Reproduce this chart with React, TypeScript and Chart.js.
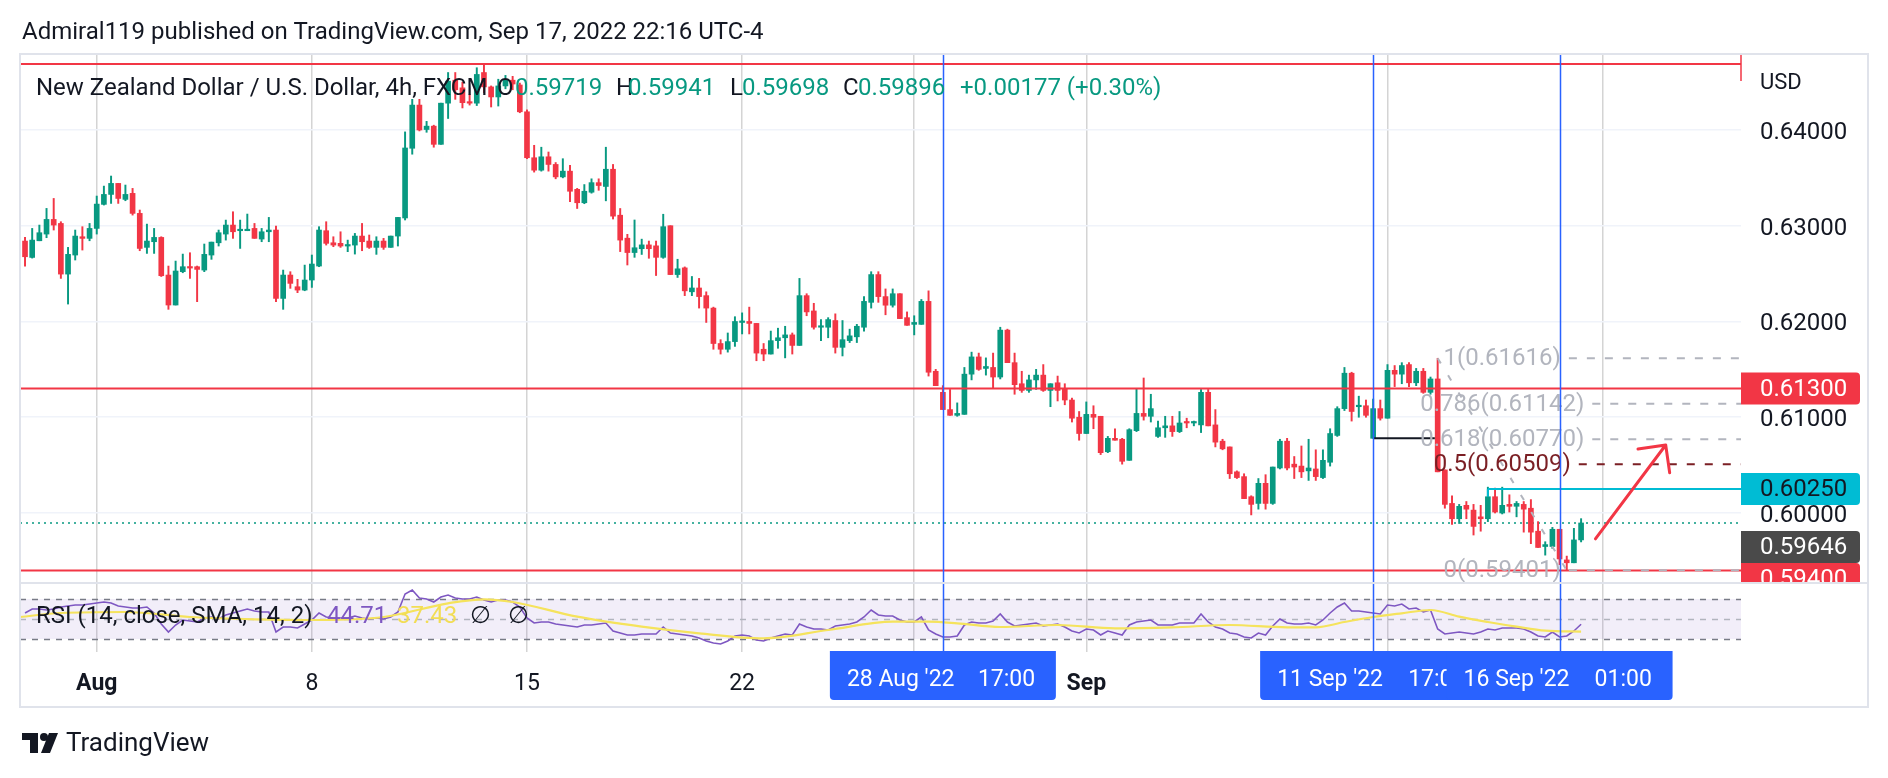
import React, { useEffect, useRef } from 'react';
import { Chart, registerables } from 'chart.js';

Chart.register(...registerables);

const FONT = 'Roboto, "Noto Sans", "DejaVu Sans", sans-serif';
const UP = '#089981';
const DOWN = '#f23645';
const TEXT = '#131722';

// ---- 4h candles, NZD/USD (bar index 0 = first visible bar) ----
const opens = [
  0.62840, 0.62669, 0.62843, 0.62913, 0.63066, 0.63024, 0.62495, 0.62694, 0.62885, 0.62868,
  0.62972, 0.63223, 0.63327, 0.63442, 0.63275, 0.63338, 0.63129, 0.62774, 0.62833, 0.62878,
  0.62485, 0.62172, 0.62520, 0.62572, 0.62572, 0.62537, 0.62694, 0.62822, 0.62913, 0.63007,
  0.62948, 0.62948, 0.62972, 0.62861, 0.62937, 0.62955, 0.62241, 0.62485, 0.62363, 0.62328,
  0.62433, 0.62579, 0.62948, 0.62822, 0.62816, 0.62788, 0.62798, 0.62892, 0.62840, 0.62774,
  0.62840, 0.62774, 0.62892, 0.63081, 0.63809, 0.64260, 0.64005, 0.64040, 0.63850, 0.64280,
  0.64520, 0.64440, 0.64290, 0.64280, 0.64600, 0.64450, 0.64345, 0.64460, 0.64520, 0.64470,
  0.64190, 0.63710, 0.63580, 0.63720, 0.63640, 0.63510, 0.63570, 0.63380, 0.63240, 0.63350,
  0.63450, 0.63410, 0.63590, 0.63110, 0.62870, 0.62720, 0.62760, 0.62800, 0.62790, 0.62670,
  0.63000, 0.62490, 0.62560, 0.62310, 0.62350, 0.62270, 0.62140, 0.61770, 0.61710, 0.61790,
  0.61990, 0.62000, 0.61980, 0.61710, 0.61660, 0.61800, 0.61830, 0.61860, 0.61750, 0.62270,
  0.62110, 0.61940, 0.61940, 0.62010, 0.61730, 0.61800, 0.61840, 0.61940, 0.62200, 0.62490,
  0.62260, 0.62170, 0.62290, 0.62040, 0.61970, 0.61970, 0.62210, 0.61480, 0.61260, 0.61080,
  0.61020, 0.61030, 0.61450, 0.61630, 0.61510, 0.61520, 0.61420, 0.61910, 0.61570, 0.61350,
  0.61280, 0.61390, 0.61440, 0.61280, 0.61360, 0.61300, 0.61180, 0.61000, 0.60830, 0.61030,
  0.61010, 0.60640, 0.60780, 0.60770, 0.60550, 0.60860, 0.61040, 0.61010, 0.60800, 0.60890,
  0.60910, 0.60850, 0.60950, 0.60940, 0.60920, 0.61260, 0.60920, 0.60750, 0.60690, 0.60430,
  0.60380, 0.60170, 0.60100, 0.60310, 0.60100, 0.60470, 0.60750, 0.60510, 0.60490, 0.60440,
  0.60460, 0.60370, 0.60530, 0.60810, 0.61090, 0.61460, 0.61110, 0.61120, 0.60780, 0.61090,
  0.60990, 0.61490, 0.61450, 0.61550, 0.61360, 0.61480, 0.61260, 0.61400, 0.60450, 0.60100,
  0.59940, 0.60080, 0.60030, 0.59960, 0.59940, 0.60170, 0.60000, 0.60090, 0.60070, 0.60090,
  0.60050, 0.59810, 0.59650, 0.59650, 0.59830, 0.59510, 0.59480, 0.59719,
];
const highs = [
  0.62878, 0.62972, 0.63007, 0.63181, 0.63285, 0.63042, 0.62774, 0.62955, 0.62990, 0.63024,
  0.63310, 0.63414, 0.63519, 0.63442, 0.63425, 0.63390, 0.63164, 0.63017, 0.62972, 0.62885,
  0.62579, 0.62631, 0.62704, 0.62718, 0.62579, 0.62809, 0.62829, 0.62955, 0.63059, 0.63146,
  0.63059, 0.63122, 0.63024, 0.62972, 0.63087, 0.62997, 0.62537, 0.62520, 0.62440, 0.62589,
  0.62694, 0.62990, 0.63042, 0.62885, 0.62937, 0.62850, 0.62920, 0.63024, 0.62903, 0.62885,
  0.62868, 0.62892, 0.63087, 0.63980, 0.64320, 0.64320, 0.64090, 0.64050, 0.64280, 0.64600,
  0.64600, 0.64500, 0.64370, 0.64650, 0.64680, 0.64460, 0.64530, 0.64570, 0.64560, 0.64490,
  0.64210, 0.63840, 0.63820, 0.63770, 0.63660, 0.63700, 0.63630, 0.63390, 0.63430, 0.63490,
  0.63490, 0.63820, 0.63640, 0.63180, 0.62910, 0.63060, 0.62860, 0.62840, 0.62840, 0.63120,
  0.63000, 0.62650, 0.62570, 0.62470, 0.62450, 0.62310, 0.62150, 0.61810, 0.61880, 0.62050,
  0.62090, 0.62150, 0.61980, 0.61770, 0.61900, 0.61930, 0.61950, 0.61880, 0.62450, 0.62290,
  0.62190, 0.62020, 0.62040, 0.62080, 0.62010, 0.61920, 0.61970, 0.62260, 0.62520, 0.62520,
  0.62340, 0.62340, 0.62290, 0.62100, 0.62060, 0.62230, 0.62320, 0.61500, 0.61330, 0.61290,
  0.61150, 0.61520, 0.61680, 0.61670, 0.61620, 0.61670, 0.61940, 0.61920, 0.61670, 0.61480,
  0.61440, 0.61500, 0.61550, 0.61350, 0.61430, 0.61350, 0.61200, 0.61060, 0.61160, 0.61120,
  0.61010, 0.60800, 0.60880, 0.60780, 0.60880, 0.61300, 0.61410, 0.61240, 0.60960, 0.61010,
  0.61010, 0.61060, 0.60990, 0.60960, 0.61290, 0.61290, 0.61080, 0.60770, 0.60690, 0.60440,
  0.60410, 0.60180, 0.60360, 0.60400, 0.60480, 0.60770, 0.60780, 0.60590, 0.60700, 0.60770,
  0.60660, 0.60660, 0.60880, 0.61110, 0.61520, 0.61470, 0.61220, 0.61180, 0.61190, 0.61180,
  0.61550, 0.61540, 0.61570, 0.61570, 0.61510, 0.61510, 0.61420, 0.61616, 0.60450, 0.60180,
  0.60090, 0.60120, 0.60090, 0.60080, 0.60270, 0.60260, 0.60270, 0.60190, 0.60120, 0.60120,
  0.60140, 0.59910, 0.59700, 0.59850, 0.59830, 0.59550, 0.59840, 0.59941,
];
const lows = [
  0.62579, 0.62662, 0.62843, 0.62875, 0.62955, 0.62450, 0.62182, 0.62642, 0.62746, 0.62843,
  0.62913, 0.63216, 0.63233, 0.63233, 0.63261, 0.63111, 0.62739, 0.62711, 0.62711, 0.62470,
  0.62127, 0.62172, 0.62509, 0.62450, 0.62207, 0.62520, 0.62649, 0.62788, 0.62850, 0.62868,
  0.62763, 0.62948, 0.62868, 0.62833, 0.62833, 0.62207, 0.62127, 0.62346, 0.62301, 0.62321,
  0.62356, 0.62572, 0.62798, 0.62781, 0.62774, 0.62729, 0.62704, 0.62739, 0.62763, 0.62701,
  0.62753, 0.62774, 0.62788, 0.63060, 0.63747, 0.63990, 0.63976, 0.63820, 0.63850, 0.64120,
  0.64320, 0.64230, 0.64260, 0.64255, 0.64390, 0.64240, 0.64250, 0.64430, 0.64420, 0.64180,
  0.63700, 0.63560, 0.63570, 0.63570, 0.63490, 0.63500, 0.63250, 0.63180, 0.63230, 0.63340,
  0.63370, 0.63260, 0.63070, 0.62730, 0.62590, 0.62670, 0.62700, 0.62660, 0.62480, 0.62660,
  0.62490, 0.62460, 0.62270, 0.62270, 0.62140, 0.61990, 0.61710, 0.61660, 0.61680, 0.61740,
  0.61870, 0.61870, 0.61590, 0.61590, 0.61660, 0.61720, 0.61620, 0.61660, 0.61750, 0.62060,
  0.61920, 0.61800, 0.61830, 0.61670, 0.61640, 0.61780, 0.61780, 0.61900, 0.62140, 0.62200,
  0.62070, 0.62150, 0.62030, 0.61960, 0.61860, 0.61970, 0.61430, 0.61330, 0.61080, 0.61020,
  0.61010, 0.61030, 0.61390, 0.61490, 0.61440, 0.61300, 0.61400, 0.61570, 0.61240, 0.61260,
  0.61260, 0.61290, 0.61270, 0.61110, 0.61170, 0.61130, 0.60950, 0.60760, 0.60830, 0.60880,
  0.60610, 0.60630, 0.60760, 0.60510, 0.60550, 0.60850, 0.60970, 0.60950, 0.60790, 0.60790,
  0.60800, 0.60840, 0.60890, 0.60910, 0.60840, 0.60910, 0.60690, 0.60660, 0.60360, 0.60360,
  0.60150, 0.59980, 0.60040, 0.60040, 0.60090, 0.60460, 0.60450, 0.60360, 0.60370, 0.60340,
  0.60340, 0.60360, 0.60490, 0.60800, 0.61070, 0.60960, 0.61000, 0.61000, 0.60780, 0.60970,
  0.60990, 0.61320, 0.61350, 0.61320, 0.61330, 0.61250, 0.61240, 0.60430, 0.60050, 0.59880,
  0.59890, 0.59940, 0.59770, 0.59810, 0.59910, 0.60000, 0.59990, 0.60010, 0.59960, 0.59800,
  0.59680, 0.59640, 0.59560, 0.59630, 0.59460, 0.59401, 0.59480, 0.59698,
];
const closes = [
  0.62676, 0.62850, 0.62927, 0.63066, 0.63007, 0.62495, 0.62701, 0.62892, 0.62868, 0.62972,
  0.63226, 0.63327, 0.63442, 0.63285, 0.63327, 0.63129, 0.62763, 0.62840, 0.62878, 0.62478,
  0.62172, 0.62527, 0.62572, 0.62558, 0.62544, 0.62701, 0.62829, 0.62927, 0.63007, 0.62937,
  0.62958, 0.62962, 0.62868, 0.62937, 0.62955, 0.62241, 0.62485, 0.62398, 0.62328, 0.62433,
  0.62600, 0.62955, 0.62816, 0.62798, 0.62788, 0.62798, 0.62892, 0.62833, 0.62774, 0.62840,
  0.62774, 0.62892, 0.63087, 0.63812, 0.64260, 0.64000, 0.64040, 0.63850, 0.64280, 0.64510,
  0.64420, 0.64285, 0.64280, 0.64580, 0.64450, 0.64345, 0.64460, 0.64520, 0.64480, 0.64190,
  0.63710, 0.63580, 0.63720, 0.63640, 0.63510, 0.63570, 0.63360, 0.63240, 0.63360, 0.63450,
  0.63420, 0.63590, 0.63100, 0.62850, 0.62720, 0.62770, 0.62800, 0.62760, 0.62670, 0.62990,
  0.62490, 0.62550, 0.62320, 0.62350, 0.62260, 0.62140, 0.61770, 0.61710, 0.61790, 0.62000,
  0.62000, 0.61980, 0.61670, 0.61660, 0.61800, 0.61830, 0.61860, 0.61750, 0.62270, 0.62100,
  0.61940, 0.61950, 0.62020, 0.61730, 0.61810, 0.61850, 0.61950, 0.62210, 0.62490, 0.62260,
  0.62170, 0.62290, 0.62030, 0.61960, 0.61990, 0.62210, 0.61470, 0.61330, 0.61080, 0.61020,
  0.61040, 0.61450, 0.61630, 0.61500, 0.61530, 0.61420, 0.61910, 0.61570, 0.61340, 0.61280,
  0.61390, 0.61440, 0.61280, 0.61350, 0.61280, 0.61180, 0.60990, 0.60830, 0.61030, 0.61000,
  0.60630, 0.60780, 0.60760, 0.60540, 0.60870, 0.61040, 0.61010, 0.61090, 0.60890, 0.60910,
  0.60850, 0.60940, 0.60940, 0.60950, 0.61260, 0.60910, 0.60740, 0.60670, 0.60410, 0.60370,
  0.60150, 0.60090, 0.60310, 0.60100, 0.60480, 0.60750, 0.60470, 0.60480, 0.60430, 0.60470,
  0.60380, 0.60550, 0.60830, 0.61090, 0.61460, 0.61060, 0.61120, 0.61020, 0.61090, 0.60990,
  0.61490, 0.61450, 0.61540, 0.61360, 0.61480, 0.61260, 0.61400, 0.60430, 0.60090, 0.59940,
  0.60070, 0.60040, 0.59860, 0.59940, 0.60170, 0.60010, 0.60080, 0.60070, 0.60100, 0.60040,
  0.59800, 0.59640, 0.59670, 0.59830, 0.59520, 0.59480, 0.59719, 0.59896,
];

// ---- RSI (14) and its SMA ----
const rsiValues = [
  56, 60, 60, 59, 60, 62, 63, 64, 64, 65,
  66, 67, 66, 63, 62, 61, 61, 62, 56, 45,
  37, 44, 49, 48, 47, 51, 52, 50, 54, 56,
  58, 60, 58, 57, 57, 37, 42, 42, 41, 45,
  49, 56, 52, 51, 51, 51, 53, 51, 50, 51,
  50, 52, 57, 75, 79, 71, 70, 67, 72, 74,
  71, 70, 70, 72, 69, 67, 69, 69, 67, 62,
  51, 46, 47, 47, 45, 44, 43, 42, 44, 44,
  45, 46, 38, 36, 34, 34, 35, 35, 35, 42,
  36, 35, 34, 33, 31, 28, 26, 25, 28, 33,
  34, 33, 29, 28, 31, 33, 35, 34, 45, 42,
  40, 40, 39, 43, 44, 45, 47, 52, 59, 54,
  53, 53, 49, 47, 47, 52, 39, 35, 32, 32,
  33, 44, 47, 46, 46, 48, 55, 47, 43, 44,
  45, 46, 43, 44, 45, 42, 38, 36, 40, 39,
  34, 38, 36, 34, 44, 47, 48, 49, 44, 44,
  44, 46, 46, 46, 55, 47, 42, 40, 36, 35,
  32, 31, 36, 34, 43, 50, 46, 45, 45, 46,
  44, 49, 56, 62, 66, 58, 58, 57, 56, 55,
  64, 63, 65, 60, 61, 57, 59, 40, 35, 36,
  37, 36, 35, 37, 40, 39, 41, 41, 41, 40,
  37, 33, 32, 37, 32, 33, 38, 44.71,
];
const smaIdx = [-0.7, 5, 14, 23, 32, 41, 50, 59, 64, 68, 77, 86, 94, 103, 112, 121, 126, 130, 136, 144, 152, 160, 168, 176, 180, 184, 188, 192, 196, 200, 204, 208, 212, 217];
const smaValues = [52, 56, 57, 52, 49.7, 49, 52, 65.7, 69.7, 67, 52.3, 42.3, 35.7, 30.7, 39, 47.3, 47.3, 45.7, 42, 44, 40.7, 41.7, 44, 41.7, 41.7, 47, 52, 55.7, 59, 52.3, 47, 42.3, 38.3, 37.43];
const rsiLevels = [70, 50, 30];

// ---- axes ----
const priceTicks = [0.6, 0.61, 0.62, 0.63, 0.64];
const timeTickIdx = [10, 40, 70, 100, 124, 148, 190, 220];
const timeTickLabels = ['Aug', '8', '15', '22', '26', 'Sep', '12', '19'];
const hiddenTimeTicks = ['26', '12', '19'];
const boldTimeTicks = ['Aug', 'Sep'];

// ---- drawings ----
const redLevels = [0.64688, 0.613, 0.594];
const fibFromIdx = 197;
const fibToIdx = 215;
const fibRatios = ['1', '0.786', '0.618', '0.5', '0'];
const fibPrices = [0.61616, 0.61142, 0.6077, 0.60509, 0.59401];
const cyanPrice = 0.6025;
const cyanFromIdx = 204;
const blackPrice = 0.6078;
const blackFromIdx = 188;
const blackToIdx = 196.6;
const crosshairPrice = 0.59646;
const arrowFrom = [219, 0.5973];
const arrowTo = [228.8, 0.6071];
const vLineIdx = [128, 188, 214];
const vLineDates = ["28 Aug '22", "11 Sep '22", "16 Sep '22"];
const vLineTimes = ['17:00', '17:00', '01:00'];

const X_MIN = -0.7;
const X_MAX = 239.3;
const P_MIN = 0.59269;
const P_MAX = 0.64783;

function App() {
  const ref = useRef<HTMLCanvasElement>(null);

  useEffect(() => {
    document.body.style.margin = '0';
    const canvas = ref.current!;
    const idx = opens.map((_, i) => i);
    const colors = idx.map((i) => (closes[i] >= opens[i] ? UP : DOWN));
    const last = opens.length - 1;

    const hLine = (ctx: CanvasRenderingContext2D, x0: number, x1: number, y: number) => {
      ctx.beginPath();
      ctx.moveTo(x0, y);
      ctx.lineTo(x1, y);
      ctx.stroke();
    };

    const overlay = {
      id: 'overlay',
      beforeDatasetsDraw(chart: any) {
        const { ctx, chartArea } = chart;
        const ys = chart.scales.y;
        const rs = chart.scales.yRsi;
        const L = chartArea.left;
        const R = chartArea.right;
        ctx.save();
        // RSI band
        const y70 = rs.getPixelForValue(rsiLevels[0]);
        const y30 = rs.getPixelForValue(rsiLevels[2]);
        ctx.fillStyle = 'rgba(126,87,194,0.1)';
        ctx.fillRect(L, y70, R - L, y30 - y70);
        ctx.lineWidth = 1.5;
        ctx.setLineDash([6, 6]);
        rsiLevels.forEach((v, k) => {
          ctx.strokeStyle = k === 1 ? '#b2b5be' : '#787b86';
          hLine(ctx, L, R, Math.round(rs.getPixelForValue(v)) + 0.5);
        });
        // last price dotted line
        ctx.setLineDash([2, 4]);
        ctx.strokeStyle = UP;
        ctx.lineWidth = 1.5;
        hLine(ctx, L, R, ys.getPixelForValue(closes[last]));
        ctx.restore();
      },
      afterDatasetsDraw(chart: any) {
        const { ctx, chartArea } = chart;
        const xs = chart.scales.x;
        const ys = chart.scales.y;
        const rs = chart.scales.yRsi;
        const L = chartArea.left;
        const R = chartArea.right;
        const X = (v: number) => xs.getPixelForValue(v);
        const Y = (v: number) => ys.getPixelForValue(v);

        ctx.save();
        ctx.beginPath();
        ctx.rect(L, ys.top, R - L, ys.bottom - ys.top);
        ctx.clip();

        // red horizontal levels
        ctx.strokeStyle = DOWN;
        ctx.lineWidth = 2;
        redLevels.forEach((p) => hLine(ctx, L, R, Y(p)));

        // black segment
        ctx.strokeStyle = '#131722';
        ctx.lineWidth = 2;
        hLine(ctx, X(blackFromIdx), X(blackToIdx), Y(blackPrice));

        // cyan level
        ctx.strokeStyle = '#00bcd4';
        ctx.lineWidth = 2;
        hLine(ctx, X(cyanFromIdx), R, Y(cyanPrice));
        ctx.beginPath();
        ctx.moveTo(X(cyanFromIdx), Y(cyanPrice));
        ctx.lineTo(X(cyanFromIdx), Y(closes[cyanFromIdx]));
        ctx.stroke();

        // fib diagonal
        ctx.strokeStyle = '#b2b5be';
        ctx.lineWidth = 2;
        ctx.setLineDash([6, 14]);
        ctx.beginPath();
        ctx.moveTo(X(fibFromIdx), Y(fibPrices[0]));
        ctx.lineTo(X(fibToIdx), Y(fibPrices[4]));
        ctx.stroke();

        // fib levels
        const cx = X((fibFromIdx + fibToIdx) / 2);
        ctx.font = `24px ${FONT}`;
        ctx.textAlign = 'center';
        ctx.textBaseline = 'middle';
        fibRatios.forEach((r, k) => {
          const py = Y(fibPrices[k]);
          const color = r === '0.5' ? '#7b1f24' : '#b2b5be';
          const label = `${r}(${fibPrices[k].toFixed(5)})`;
          const w = ctx.measureText(label).width;
          ctx.setLineDash([8, 10]);
          ctx.strokeStyle = color;
          ctx.lineWidth = 2;
          hLine(ctx, cx + w / 2 + 8, R, py);
          ctx.setLineDash([]);
          ctx.fillStyle = color;
          ctx.fillText(label, cx, py + 1);
        });

        // arrow
        ctx.setLineDash([]);
        ctx.strokeStyle = DOWN;
        ctx.lineWidth = 3;
        ctx.lineCap = 'round';
        const ax0 = X(arrowFrom[0]);
        const ay0 = Y(arrowFrom[1]);
        const ax1 = X(arrowTo[0]);
        const ay1 = Y(arrowTo[1]);
        ctx.beginPath();
        ctx.moveTo(ax0, ay0);
        ctx.lineTo(ax1, ay1);
        const ang = Math.atan2(ay1 - ay0, ax1 - ax0) + Math.PI;
        [Math.PI / 4, -Math.PI / 4].forEach((d) => {
          ctx.moveTo(ax1, ay1);
          ctx.lineTo(ax1 + 28 * Math.cos(ang + d), ay1 + 28 * Math.sin(ang + d));
        });
        ctx.stroke();
        ctx.restore();

        // vertical blue lines
        ctx.save();
        ctx.strokeStyle = '#2962ff';
        ctx.lineWidth = 1.5;
        vLineIdx.forEach((v) => {
          const px = Math.round(X(v)) + 0.5;
          ctx.beginPath();
          ctx.moveTo(px, ys.top - 1);
          ctx.lineTo(px, rs.bottom);
          ctx.stroke();
        });
        // top red line end tick
        ctx.strokeStyle = DOWN;
        ctx.lineWidth = 1.5;
        ctx.beginPath();
        ctx.moveTo(R, ys.top - 1);
        ctx.lineTo(R, Y(redLevels[0]) + 17);
        ctx.stroke();
        ctx.restore();

        // price axis labels (TradingView stacks overlapping labels downward)
        ctx.save();
        ctx.beginPath();
        ctx.rect(R, ys.top, 200, ys.bottom - ys.top);
        ctx.clip();
        const boxes = [
          { p: redLevels[1], bg: DOWN, fg: '#ffffff' },
          { p: cyanPrice, bg: '#00bcd4', fg: TEXT },
          { p: crosshairPrice, bg: '#4a4a4a', fg: '#ffffff' },
          { p: redLevels[2], bg: DOWN, fg: '#ffffff' },
        ];
        ctx.font = `24px ${FONT}`;
        ctx.textAlign = 'left';
        ctx.textBaseline = 'middle';
        let prevBottom = -Infinity;
        const placed = boxes
          .map((b) => ({ ...b, cy: Y(b.p) }))
          .sort((a, b) => a.cy - b.cy)
          .map((b) => {
            const cy = Math.max(b.cy, prevBottom + 16);
            prevBottom = cy + 16;
            return { ...b, cy };
          });
        // draw lower ones first so upper (crosshair) sits above
        placed
          .slice()
          .reverse()
          .forEach((b) => {
            ctx.fillStyle = b.bg;
            ctx.beginPath();
            (ctx as any).roundRect(R, b.cy - 16, 119, 32, [0, 4, 4, 0]);
            ctx.fill();
            ctx.fillStyle = b.fg;
            ctx.fillText(b.p.toFixed(5), 1760, b.cy + 1);
          });
        ctx.restore();
      },
      afterDraw(chart: any) {
        const { ctx } = chart;
        const xs = chart.scales.x;
        const ys = chart.scales.y;
        const rs = chart.scales.yRsi;
        ctx.save();
        // frame
        ctx.strokeStyle = '#e0e3eb';
        ctx.lineWidth = 2;
        ctx.strokeRect(20, 54, 1848, 653);
        hLine(ctx, 20, 1868, ys.bottom);

        ctx.textBaseline = 'middle';
        ctx.textAlign = 'left';
        // title
        ctx.fillStyle = TEXT;
        ctx.font = `24px ${FONT}`;
        ctx.fillText('Admiral119 published on TradingView.com, Sep 17, 2022 22:16 UTC-4', 22, 33);

        // USD
        ctx.font = `22px ${FONT}`;
        ctx.fillText('USD', 1760, 83);

        // main legend
        const legY = 88.5;
        ctx.font = `24px ${FONT}`;
        ctx.fillText('New Zealand Dollar / U.S. Dollar, 4h, FXCM', 36, legY);
        const chg = closes[last] - closes[last - 1];
        const pct = (chg / closes[last - 1]) * 100;
        const parts: [string, number, string][] = [
          ['O', 497, TEXT], [opens[last].toFixed(5), 515, UP],
          ['H', 616, TEXT], [highs[last].toFixed(5), 628, UP],
          ['L', 730, TEXT], [lows[last].toFixed(5), 742, UP],
          ['C', 843, TEXT], [closes[last].toFixed(5), 858, UP],
          [`+${chg.toFixed(5)} (+${pct.toFixed(2)}%)`, 960, UP],
        ];
        parts.forEach(([t, px, c]) => {
          ctx.fillStyle = c;
          ctx.fillText(t, px, legY);
        });

        // RSI legend
        const rsiY = 616.5;
        ctx.font = `24px ${FONT}`;
        ctx.fillStyle = TEXT;
        ctx.fillText('RSI (14, close, SMA, 14, 2)', 36, rsiY);
        ctx.fillStyle = '#7e57c2';
        ctx.fillText(rsiValues[last].toFixed(2), 327, rsiY);
        ctx.fillStyle = '#f2dd55';
        ctx.fillText(smaValues[smaValues.length - 1].toFixed(2), 397, rsiY);
        ctx.fillStyle = TEXT;
        ctx.fillText('\u2205', 470, rsiY);
        ctx.fillText('\u2205', 508, rsiY);

        // time labels for vertical lines
        ctx.font = `23px ${FONT}`;
        vLineIdx.forEach((v, k) => {
          const px = xs.getPixelForValue(v);
          const x0 = px - 113;
          ctx.fillStyle = '#2962ff';
          ctx.beginPath();
          (ctx as any).roundRect(x0, rs.bottom - 1, 226, 49, [0, 0, 4, 4]);
          ctx.fill();
          ctx.save();
          ctx.beginPath();
          ctx.rect(x0, rs.bottom - 1, 226, 49);
          ctx.clip();
          ctx.fillStyle = '#ffffff';
          ctx.textAlign = 'left';
          ctx.fillText(vLineDates[k], x0 + 17, rs.bottom + 28);
          ctx.fillText(vLineTimes[k], x0 + 148, rs.bottom + 28);
          ctx.restore();
        });

        // footer
        ctx.fillStyle = TEXT;
        ctx.fillRect(22, 733, 16, 7);
        ctx.fillRect(30, 733, 8, 20);
        ctx.beginPath();
        ctx.arc(44, 737, 4, 0, Math.PI * 2);
        ctx.fill();
        ctx.beginPath();
        ctx.moveTo(49, 733);
        ctx.lineTo(58, 733);
        ctx.lineTo(50, 753);
        ctx.lineTo(41, 753);
        ctx.closePath();
        ctx.fill();
        ctx.font = `26px ${FONT}`;
        ctx.textAlign = 'left';
        ctx.fillText('TradingView', 66, 744);
        ctx.restore();
      },
    };

    const chart = new Chart(canvas, {
      type: 'bar',
      data: {
        datasets: [
          {
            type: 'bar',
            label: 'wicks',
            data: idx.map((i) => ({ x: i, y: [lows[i], highs[i]] })) as any,
            backgroundColor: colors,
            barThickness: 1.3,
            maxBarThickness: 1.3,
            grouped: false,
            yAxisID: 'y',
            order: 3,
          },
          {
            type: 'bar',
            label: 'bodies',
            data: idx.map((i) => ({ x: i, y: [opens[i], closes[i]] })) as any,
            backgroundColor: colors,
            barThickness: 5,
            maxBarThickness: 5,
            minBarLength: 1.5,
            grouped: false,
            yAxisID: 'y',
            order: 2,
          },
          {
            type: 'line',
            label: 'RSI',
            data: idx.map((i) => ({ x: i, y: rsiValues[i] })),
            borderColor: '#7e57c2',
            borderWidth: 1.6,
            pointRadius: 0,
            tension: 0,
            yAxisID: 'yRsi',
            order: 1,
          },
          {
            type: 'line',
            label: 'RSI SMA',
            data: smaIdx.map((v, k) => ({ x: v, y: smaValues[k] })),
            borderColor: '#f5e35c',
            borderWidth: 2.2,
            pointRadius: 0,
            cubicInterpolationMode: 'monotone',
            yAxisID: 'yRsi',
            order: 0,
          },
        ] as any,
      },
      options: {
        responsive: false,
        devicePixelRatio: 1,
        animation: false,
        events: [],
        layout: { padding: { left: 20, right: 20, top: 55, bottom: 71 } },
        plugins: { legend: { display: false }, tooltip: { enabled: false } },
        scales: {
          x: {
            type: 'linear',
            position: 'bottom',
            min: X_MIN,
            max: X_MAX,
            offset: false,
            afterBuildTicks: (s: any) => {
              s.ticks = timeTickIdx.map((v) => ({ value: v }));
            },
            afterFit: (s: any) => {
              s.height = 55;
            },
            ticks: {
              autoSkip: false,
              maxRotation: 0,
              padding: 18,
              color: TEXT,
              font: (c: any) => ({
                family: FONT,
                size: 23,
                weight: boldTimeTicks.includes(timeTickLabels[c.index]) ? 'bold' : 'normal',
              }),
              callback: (_v: any, i: number) =>
                hiddenTimeTicks.includes(timeTickLabels[i]) ? '' : timeTickLabels[i],
            },
            grid: { color: '#d4d4d4', lineWidth: 1.5, drawTicks: false, offset: false },
            border: { display: false },
          },
          y: {
            type: 'linear',
            position: 'right',
            stack: 'panes',
            stackWeight: 528,
            min: P_MIN,
            max: P_MAX,
            afterBuildTicks: (s: any) => {
              s.ticks = priceTicks.map((v) => ({ value: v }));
            },
            afterFit: (s: any) => {
              s.width = 127;
            },
            ticks: {
              padding: 19,
              labelOffset: 3,
              color: TEXT,
              font: { family: FONT, size: 24 },
              callback: (v: any) => Number(v).toFixed(5),
            },
            grid: { color: '#f0f3fa', lineWidth: 1.5, drawTicks: false },
            border: { display: false },
          },
          yRsi: {
            type: 'linear',
            position: 'right',
            stack: 'panes',
            stackWeight: 69,
            min: 17,
            max: 86,
            afterFit: (s: any) => {
              s.width = 127;
            },
            ticks: { display: false },
            grid: { display: false, drawTicks: false },
            border: { display: false },
          },
        } as any,
      },
      plugins: [overlay],
    });

    return () => chart.destroy();
  }, []);

  return (
    <div style={{ width: 1888, height: 778, background: '#ffffff' }}>
      <canvas ref={ref} width={1888} height={778} style={{ display: 'block', width: 1888, height: 778 }} />
    </div>
  );
}

export default App;
